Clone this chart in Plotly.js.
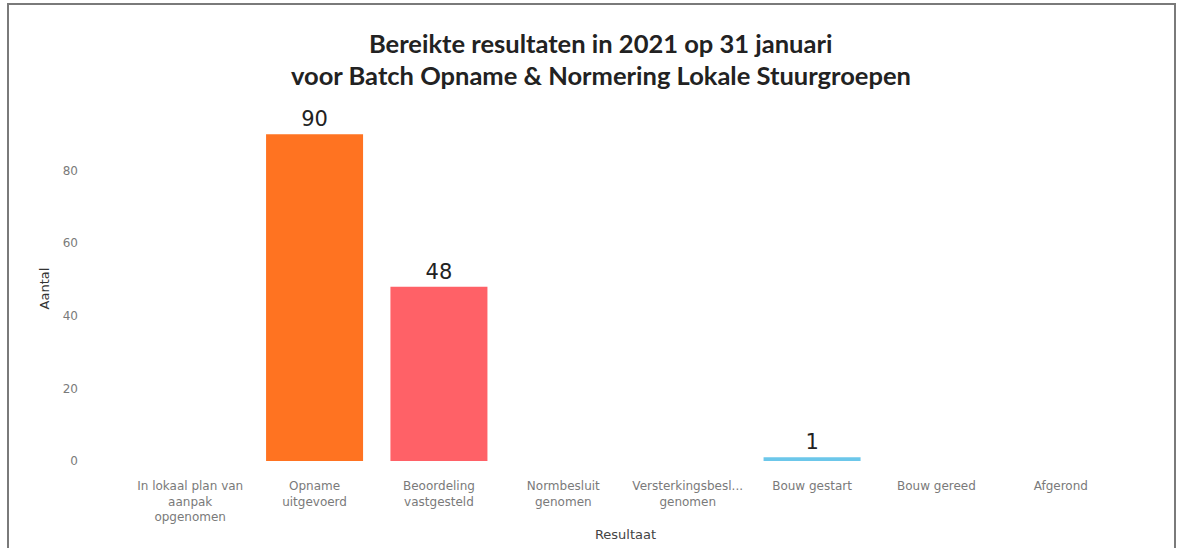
<!DOCTYPE html>
<html>
<head>
<meta charset="utf-8">
<script src="https://cdn.plot.ly/plotly-3.0.1.min.js"></script>
<style>
  html, body { margin: 0; padding: 0; background: #fff; }
  #chart { position: absolute; left: 0; top: 0; width: 1184px; height: 548px; }
  #frame { position: absolute; left: 7px; top: 3px; width: 1169px; height: 560px;
           border: 2px solid #7a7a7a; pointer-events: none; box-sizing: border-box; }
</style>
</head>
<body>
<div id="chart"></div>
<div id="frame"></div>
<script>
const titleLines = [
  "Bereikte resultaten in 2021 op 31 januari",
  "voor Batch Opname & Normering Lokale Stuurgroepen"
];
const categories = [
  "In lokaal plan van<br>aanpak<br>opgenomen",
  "Opname<br>uitgevoerd",
  "Beoordeling<br>vastgesteld",
  "Normbesluit<br>genomen",
  "Versterkingsbesl...<br>genomen",
  "Bouw gestart",
  "Bouw gereed",
  "Afgerond"
];
const values = [0, 90, 48, 0, 0, 1, 0, 0];
const barLabels = ["", "90", "48", "", "", "1", "", ""];
const barColors = ["#4C9BE8", "#FF7321", "#FF6167", "#A66FD0", "#F2C230", "#6CC7EA", "#5BBE7A", "#999999"];

const trace = {
  type: "bar",
  x: categories,
  y: values,
  text: barLabels,
  textposition: "outside",
  texttemplate: "%{text}",
  cliponaxis: false,
  textfont: { family: "DejaVu Sans, sans-serif", size: 21, color: "#222" },
  marker: { color: barColors },
  hoverinfo: "x+y"
};

const titleFont = { family: "Lato, sans-serif", size: 25.5, color: "#222" };

const layout = {
  width: 1184,
  height: 548,
  paper_bgcolor: "#ffffff",
  plot_bgcolor: "#ffffff",
  margin: { l: 128, r: 61, t: 116, b: 87 },
  bargap: 0.22,
  showlegend: false,
  annotations: [
    { text: "<b>" + titleLines[0] + "</b>", xref: "paper", yref: "paper",
      x: 0.475, y: (461 - 43) / 345, xanchor: "center", yanchor: "middle",
      showarrow: false, font: titleFont },
    { text: "<b>" + titleLines[1] + "</b>", xref: "paper", yref: "paper",
      x: 0.475, y: (461 - 75) / 345, xanchor: "center", yanchor: "middle",
      showarrow: false, font: titleFont }
  ],
  xaxis: {
    type: "category",
    showgrid: false, zeroline: false, showline: false,
    ticks: "",
    tickangle: 0,
    ticklabelstandoff: 16,
    tickfont: { family: "DejaVu Sans, sans-serif", size: 12, color: "#7a7a7a" },
    title: { text: "Resultaat", font: { family: "DejaVu Sans, sans-serif", size: 13, color: "#444" }, standoff: 6 }
  },
  yaxis: {
    range: [0, 95],
    showgrid: false, zeroline: false, showline: false,
    tickvals: [0, 20, 40, 60, 80],
    ticks: "",
    ticklabelstandoff: 49,
    tickfont: { family: "DejaVu Sans, sans-serif", size: 12, color: "#7a7a7a" },
    title: { text: "Aantal", font: { family: "DejaVu Sans, sans-serif", size: 13, color: "#333" }, standoff: 10 }
  }
};

Plotly.newPlot("chart", [trace], layout, { displayModeBar: false, staticPlot: true });
</script>
</body>
</html>
